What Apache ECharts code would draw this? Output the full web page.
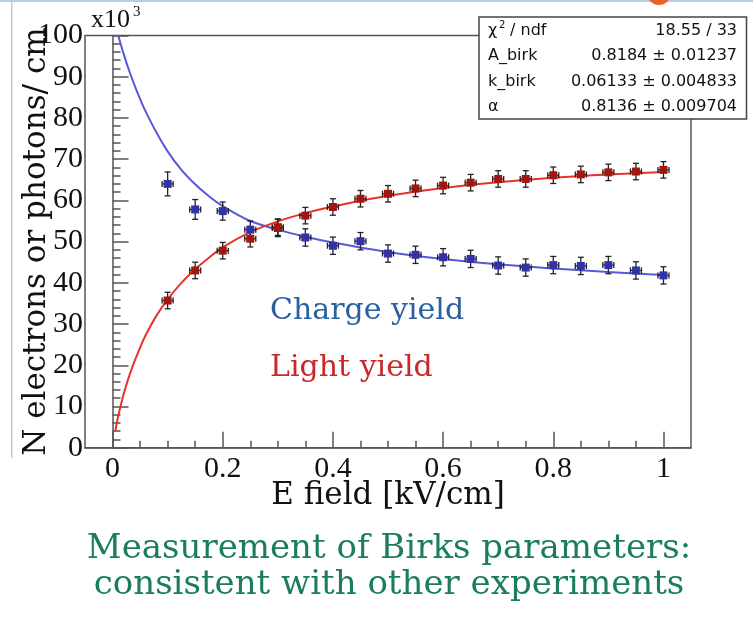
<!DOCTYPE html>
<html><head><meta charset="utf-8">
<script src="https://cdn.jsdelivr.net/npm/echarts@6/dist/echarts.min.js"></script>
<style>html,body{margin:0;padding:0;background:#fff}#c{width:753px;height:621px}</style>
</head><body><div id="c"></div>
<script>
// ---- data (units: x10^3 / cm) ----
const eField = [0.10,0.15,0.20,0.25,0.30,0.35,0.40,0.45,0.50,0.55,0.60,0.65,0.70,0.75,0.80,0.85,0.90,0.95,1.00];
const chargeYield = [64.0,57.8,57.4,52.9,53.3,51.0,49.0,50.1,47.1,46.8,46.2,45.8,44.2,43.7,44.3,44.1,44.3,43.0,41.8];
const chargeErr   = [2.9,2.4,2.2,2.1,2.1,2.1,2.1,2.1,2.1,2.1,2.1,2.1,2.1,2.1,2.1,2.1,2.1,2.1,2.1];
const lightYield  = [35.7,43.0,47.8,50.7,53.5,56.3,58.4,60.4,61.6,62.9,63.6,64.3,65.2,65.2,66.1,66.3,66.8,67.0,67.4];
const lightErr    = [2.0,2.0,2.0,2.0,2.0,2.0,2.0,2.0,2.0,2.0,2.0,2.0,2.0,2.0,2.0,2.0,2.0,2.0,2.0];
const eFieldErr = 0.01;

// fitted curves
const chargeFitX = [0.010,0.020,0.030,0.040,0.050,0.060,0.080,0.100,0.125,0.150,0.175,0.200,0.250,0.300,0.350,0.400,0.500,0.600,0.700,0.800,0.900,1.000];
const chargeFitY = [100.2,95.6,91.5,87.9,84.6,81.6,76.4,71.9,67.4,63.9,61.0,58.6,55.0,52.9,51.2,49.8,47.5,45.8,44.5,43.5,42.6,41.9];
const lightFitX  = [0.005,0.010,0.020,0.030,0.040,0.050,0.060,0.080,0.100,0.125,0.150,0.175,0.200,0.250,0.300,0.350,0.400,0.500,0.600,0.700,0.800,0.900,1.000];
const lightFitY  = [4.0,7.5,12.9,17.3,21.0,24.3,27.3,32.1,36.0,40.0,43.3,46.1,48.6,52.3,54.9,56.9,58.5,61.1,63.0,64.4,65.5,66.3,66.9];

const xMajorTicks = [0,0.2,0.4,0.6,0.8,1];
const xMinorTicks = [0.05,0.1,0.15,0.25,0.3,0.35,0.45,0.5,0.55,0.65,0.7,0.75,0.85,0.9,0.95];
const statsLabels = ['A_birk','k_birk','\u03b1'];
const statsValues = ['0.8184 \u00b1 0.01237','0.06133 \u00b1 0.004833','0.8136 \u00b1 0.009704'];
const chiLabel = ' / ndf';
const chiValue = '18.55 / 33';

// ---- chart ----
const chart = echarts.init(document.getElementById('c'), null, {renderer:'canvas'});
const serifTick = '"Liberation Serif", serif';
const serifTitle = '"DejaVu Serif", serif';
const sans = '"DejaVu Sans", sans-serif';
const frameColor = '#555';

function zip(a,b){return a.map((v,i)=>[v,b[i]]);}
function errData(ys, errs){return eField.map((x,i)=>[x, ys[i], errs[i], eFieldErr]);}

function renderErr(params, api){
  const x = api.value(0), y = api.value(1), ey = api.value(2), ex = api.value(3);
  const t = api.coord([x, y+ey]), b = api.coord([x, y-ey]);
  const l = api.coord([x-ex, y]), r = api.coord([x+ex, y]);
  const cap = 3, st = {stroke:'#222', lineWidth:1.3};
  return {type:'group', children:[
    {type:'line', shape:{x1:t[0],y1:t[1],x2:b[0],y2:b[1]}, style:st},
    {type:'line', shape:{x1:t[0]-cap,y1:t[1],x2:t[0]+cap,y2:t[1]}, style:st},
    {type:'line', shape:{x1:b[0]-cap,y1:b[1],x2:b[0]+cap,y2:b[1]}, style:st},
    {type:'line', shape:{x1:l[0],y1:l[1],x2:r[0],y2:r[1]}, style:st},
    {type:'line', shape:{x1:l[0],y1:l[1]-cap,x2:l[0],y2:l[1]+cap}, style:st},
    {type:'line', shape:{x1:r[0],y1:r[1]-cap,x2:r[0],y2:r[1]+cap}, style:st}
  ]};
}

const graphics = [
  // slide decorations
  {type:'rect', shape:{x:0,y:0,width:753,height:2}, style:{fill:'#b9cce6'}, silent:true, z:0},
  {type:'rect', shape:{x:11,y:0,width:1.5,height:458}, style:{fill:'#b9cce6'}, silent:true, z:0},
  {type:'circle', shape:{cx:659,cy:-7,r:12}, style:{fill:'#e8632c'}, silent:true, z:200},
  // x10^3
  {type:'text', x:91, y:20, style:{text:'x10', font:'26px "Liberation Serif", serif', fill:'#111', textVerticalAlign:'middle'}, z:100},
  {type:'text', x:133, y:12, style:{text:'3', font:'15px "Liberation Serif", serif', fill:'#111', textVerticalAlign:'middle'}, z:100},
  // stats box
  {type:'rect', shape:{x:479,y:17,width:267.5,height:102}, style:{fill:'#fff', stroke:'#444', lineWidth:1.5}, z:100},
  {type:'text', x:488, y:31, style:{text:'\u03c7', font:'16px '+sans, fill:'#111', textVerticalAlign:'middle'}, z:101},
  {type:'text', x:499, y:25, style:{text:'2', font:'10px '+sans, fill:'#111', textVerticalAlign:'middle'}, z:101},
  {type:'text', x:505, y:31, style:{text:chiLabel, font:'16px '+sans, fill:'#111', textVerticalAlign:'middle'}, z:101},
  {type:'text', x:737, y:31, style:{text:chiValue, font:'16px '+sans, fill:'#111', textAlign:'right', textVerticalAlign:'middle'}, z:101}
];
statsLabels.forEach((lab,i)=>{
  const yy = 56 + i*25.5;
  graphics.push({type:'text', x:488, y:yy, style:{text:lab, font:'16px '+sans, fill:'#111', textVerticalAlign:'middle'}, z:101});
  graphics.push({type:'text', x:737, y:yy, style:{text:statsValues[i], font:'16px '+sans, fill:'#111', textAlign:'right', textVerticalAlign:'middle'}, z:101});
});
graphics.push(
  {type:'text', x:270, y:311, style:{text:'Charge yield', font:'30px '+serifTitle, fill:'#2c5f9f', textVerticalAlign:'middle'}, z:100},
  {type:'text', x:270, y:368, style:{text:'Light yield', font:'30px '+serifTitle, fill:'#c8282a', textVerticalAlign:'middle'}, z:100},
  {type:'text', x:389, y:549, style:{text:'Measurement of Birks parameters:', font:'34px '+serifTitle, fill:'#1a7d5c', textAlign:'center', textVerticalAlign:'middle'}, z:100},
  {type:'text', x:389, y:585, style:{text:'consistent with other experiments', font:'34px '+serifTitle, fill:'#1a7d5c', textAlign:'center', textVerticalAlign:'middle'}, z:100}
);

const option = {
  backgroundColor:'#fff',
  animation:false,
  grid:{left:85, right:62, top:35.5, bottom:173.3, containLabel:false, outerBoundsMode:'none',
        show:true, borderColor:frameColor, borderWidth:1.5, backgroundColor:'transparent'},
  xAxis:[
    {type:'value', min:-0.05, max:1.05, position:'bottom',
     axisLine:{show:true, lineStyle:{color:frameColor, width:1.5}},
     axisTick:{show:true, inside:true, length:16, customValues:xMajorTicks, lineStyle:{color:frameColor, width:1.5}},
     axisLabel:{show:true, customValues:xMajorTicks, margin:6, color:'#111', fontFamily:serifTick, fontSize:30},
     splitLine:{show:false},
     name:'E field [kV/cm]', nameLocation:'middle', nameGap:33, nameMoveOverlap:false,
     nameTextStyle:{fontFamily:serifTitle, fontSize:31, color:'#111', verticalAlign:'top'}},
    {type:'value', min:-0.05, max:1.05, position:'bottom', gridIndex:0,
     axisLine:{show:false},
     axisTick:{show:true, inside:true, length:7, customValues:xMinorTicks, lineStyle:{color:frameColor, width:1.5}},
     axisLabel:{show:false}, splitLine:{show:false}}
  ],
  yAxis:{type:'value', min:0, max:100, interval:10,
     axisLine:{show:true, lineStyle:{color:frameColor, width:1.5}},
     axisTick:{show:true, inside:true, length:16, lineStyle:{color:frameColor, width:1.5}},
     minorTick:{show:true, splitNumber:5, length:8, lineStyle:{color:frameColor, width:1.5}},
     axisLabel:{margin:2, color:'#111', fontFamily:serifTick, fontSize:30},
     splitLine:{show:false}, minorSplitLine:{show:false},
     name:'N electrons or photons/ cm', nameLocation:'middle', nameGap:33, nameMoveOverlap:false,
     nameTextStyle:{fontFamily:serifTitle, fontSize:31, color:'#111'}},
  series:[
    {name:'Charge fit', type:'line', data:zip(chargeFitX, chargeFitY), smooth:0.35, showSymbol:false, clip:true,
     lineStyle:{color:'#5858d8', width:2}, z:2},
    {name:'Light fit', type:'line', data:zip(lightFitX, lightFitY), smooth:0.35, showSymbol:false, clip:true,
     lineStyle:{color:'#e8332b', width:2}, z:2},
    {name:'Charge err', type:'custom', renderItem:renderErr, data:errData(chargeYield, chargeErr), z:3},
    {name:'Light err', type:'custom', renderItem:renderErr, data:errData(lightYield, lightErr), z:3},
    {name:'Charge yield', type:'scatter', data:zip(eField, chargeYield), symbol:'rect', symbolSize:8,
     itemStyle:{color:'#3232a8', opacity:1}, z:4},
    {name:'Light yield', type:'scatter', data:zip(eField, lightYield), symbol:'rect', symbolSize:8,
     itemStyle:{color:'#a3150f', opacity:1}, z:4}
  ],
  graphic:graphics
};
chart.setOption(option);
</script>
</body></html>
